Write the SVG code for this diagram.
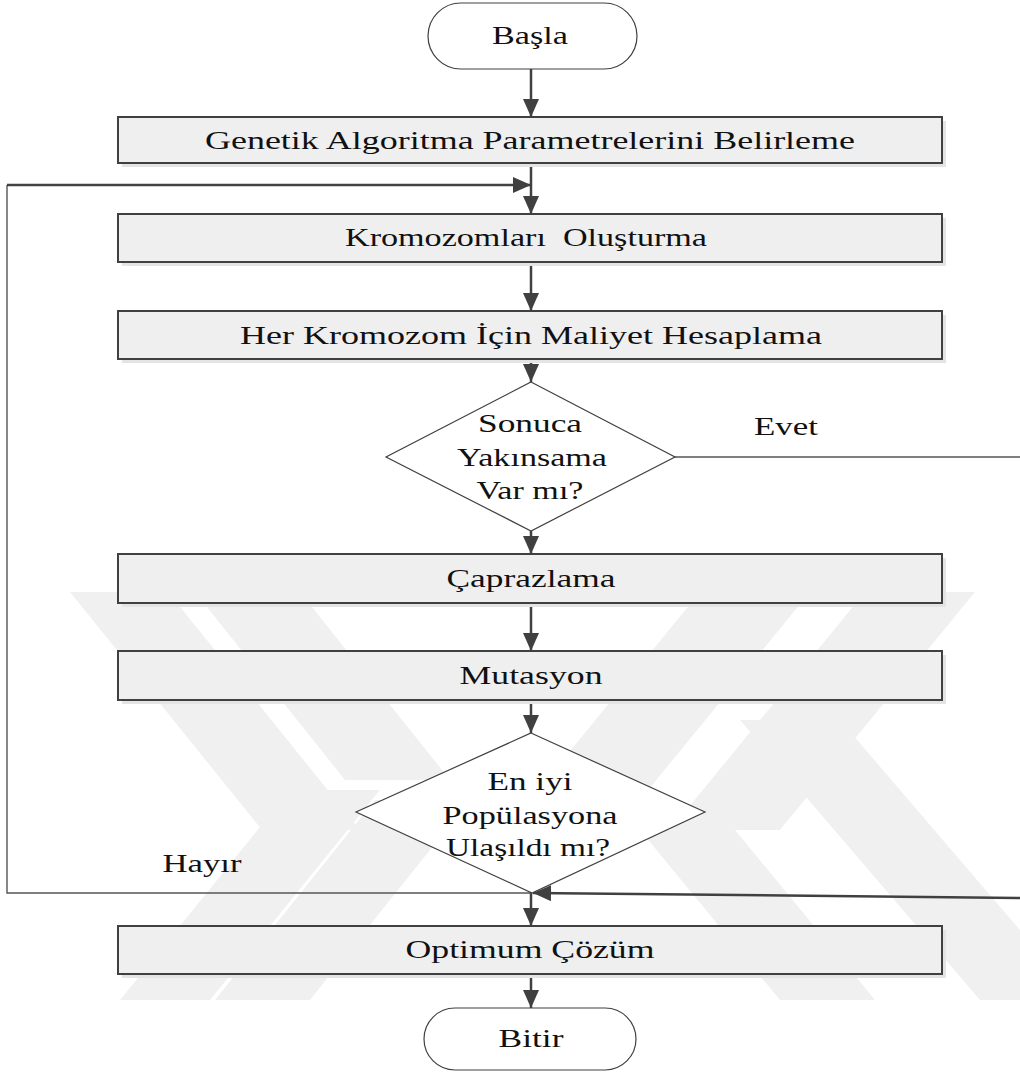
<svg xmlns="http://www.w3.org/2000/svg" width="1020" height="1075" viewBox="0 0 1020 1075">
  <style>
    .lbl { font-family: "Liberation Serif", "Times New Roman", serif; font-size: 26px; fill: #111; text-anchor: middle; }
    .box { fill: #efefef; stroke: #404040; stroke-width: 2; }
    .shadow { fill: #e4e4e4; }
    .term { fill: #ffffff; stroke: #404040; stroke-width: 1.2; }
    .dec { fill: #ffffff; stroke: #404040; stroke-width: 1.2; }
    .flow { fill: none; stroke: #404040; stroke-width: 2.5; }
    .thin { fill: none; stroke: #555; stroke-width: 1.4; }
    .wm { fill: #f0f0f0; }
  </style>
  <defs>
    <marker id="ah" viewBox="0 0 18 16" refX="18" refY="8" markerWidth="18" markerHeight="16" markerUnits="userSpaceOnUse" orient="auto">
      <path d="M0,0 L18,8 L0,16 Z" fill="#404040"/>
    </marker>
  </defs>
  <rect width="1020" height="1075" fill="#ffffff"/>

  <!-- faint background emblem made of slanted bands -->
  <g id="watermark">
    <polygon class="wm" points="70,592 168,592 360,830 262,830"/>
    <polygon class="wm" points="195,592 300,592 450,780 345,780"/>
    <polygon class="wm" points="700,592 810,592 640,800 530,800"/>
    <polygon class="wm" points="865,592 975,592 780,830 670,830"/>
    <polygon class="wm" points="120,1000 210,1000 380,790 290,790"/>
    <polygon class="wm" points="215,1000 310,1000 470,800 375,800"/>
    <polygon class="wm" points="640,830 735,830 875,1000 780,1000"/>
    <polygon class="wm" points="740,720 840,720 1080,1000 980,1000"/>
  </g>

  <!-- connectors -->
  <g id="connectors">
    <line class="flow" x1="531" y1="69" x2="531" y2="117" marker-end="url(#ah)"/>
    <line class="flow" x1="531" y1="163" x2="531" y2="214" marker-end="url(#ah)"/>
    <line class="flow" x1="531" y1="262" x2="531" y2="311" marker-end="url(#ah)"/>
    <line class="flow" x1="531" y1="359" x2="531" y2="382" marker-end="url(#ah)"/>
    <line class="flow" x1="531" y1="531" x2="531" y2="554" marker-end="url(#ah)"/>
    <line class="flow" x1="531" y1="603" x2="531" y2="651" marker-end="url(#ah)"/>
    <line class="flow" x1="531" y1="700" x2="531" y2="733" marker-end="url(#ah)"/>
    <line class="flow" x1="531" y1="893" x2="531" y2="926" marker-end="url(#ah)"/>
    <line class="flow" x1="531" y1="974" x2="531" y2="1008" marker-end="url(#ah)"/>
    <!-- "Hayır" loop back to chromosome creation -->
    <polyline class="thin" points="531,893 7,893 7,185"/>
    <line class="flow" x1="7" y1="185" x2="531" y2="185" stroke-width="2" marker-end="url(#ah)"/>
    <!-- "Evet" branch to the final solution -->
    <line class="thin" x1="675" y1="457" x2="1020" y2="457"/>
    <line class="flow" x1="1020" y1="898" x2="533" y2="893" stroke-width="2.2" marker-end="url(#ah)"/>
  </g>

  <g id="start">
    <rect class="term" x="428" y="3" width="209" height="66" rx="33" ry="33"/>
    <text class="lbl" x="530" y="44" textLength="76" lengthAdjust="spacingAndGlyphs">Başla</text>
  </g>

  <g id="params">
    <rect class="shadow" x="122" y="121" width="824" height="46"/>
    <rect class="box" x="118" y="117" width="824" height="46"/>
    <text class="lbl" x="530" y="149" textLength="650" lengthAdjust="spacingAndGlyphs">Genetik Algoritma Parametrelerini Belirleme</text>
  </g>

  <g id="create">
    <rect class="shadow" x="122" y="218" width="824" height="48"/>
    <rect class="box" x="118" y="214" width="824" height="48"/>
    <text class="lbl" x="526" y="246" textLength="362" lengthAdjust="spacingAndGlyphs" xml:space="preserve">Kromozomları  Oluşturma</text>
  </g>

  <g id="cost">
    <rect class="shadow" x="122" y="315" width="824" height="48"/>
    <rect class="box" x="118" y="311" width="824" height="48"/>
    <text class="lbl" x="531" y="344" textLength="582" lengthAdjust="spacingAndGlyphs">Her Kromozom İçin Maliyet Hesaplama</text>
  </g>

  <g id="converge">
    <polygon class="dec" points="531,382 675,457 531,531 386,457"/>
    <text class="lbl" x="530" y="432" textLength="104" lengthAdjust="spacingAndGlyphs">Sonuca</text>
    <text class="lbl" x="532" y="466" textLength="150" lengthAdjust="spacingAndGlyphs">Yakınsama</text>
    <text class="lbl" x="530" y="499" textLength="107" lengthAdjust="spacingAndGlyphs">Var mı?</text>
  </g>

  <g id="crossover">
    <rect class="shadow" x="122" y="558" width="824" height="49"/>
    <rect class="box" x="118" y="554" width="824" height="49"/>
    <text class="lbl" x="531" y="587" textLength="169" lengthAdjust="spacingAndGlyphs">Çaprazlama</text>
  </g>

  <g id="mutation">
    <rect class="shadow" x="122" y="655" width="824" height="49"/>
    <rect class="box" x="118" y="651" width="824" height="49"/>
    <text class="lbl" x="531" y="684" textLength="143" lengthAdjust="spacingAndGlyphs">Mutasyon</text>
  </g>

  <g id="best">
    <polygon class="dec" points="531,733 705,812 532,893 356,812"/>
    <text class="lbl" x="530" y="790" textLength="85" lengthAdjust="spacingAndGlyphs">En iyi</text>
    <text class="lbl" x="530" y="824" textLength="175" lengthAdjust="spacingAndGlyphs">Popülasyona</text>
    <text class="lbl" x="528" y="856" textLength="164" lengthAdjust="spacingAndGlyphs">Ulaşıldı mı?</text>
  </g>

  <g id="optimum">
    <rect class="shadow" x="122" y="930" width="824" height="48"/>
    <rect class="box" x="118" y="926" width="824" height="48"/>
    <text class="lbl" x="530" y="958" textLength="249" lengthAdjust="spacingAndGlyphs">Optimum Çözüm</text>
  </g>

  <g id="end">
    <rect class="term" x="424" y="1008" width="212" height="62" rx="31" ry="31"/>
    <text class="lbl" x="531" y="1047" textLength="65" lengthAdjust="spacingAndGlyphs">Bitir</text>
  </g>

  <g id="edge-labels">
    <text class="lbl" x="786" y="435" textLength="64" lengthAdjust="spacingAndGlyphs">Evet</text>
    <text class="lbl" x="202" y="872" textLength="79" lengthAdjust="spacingAndGlyphs">Hayır</text>
  </g>
</svg>
